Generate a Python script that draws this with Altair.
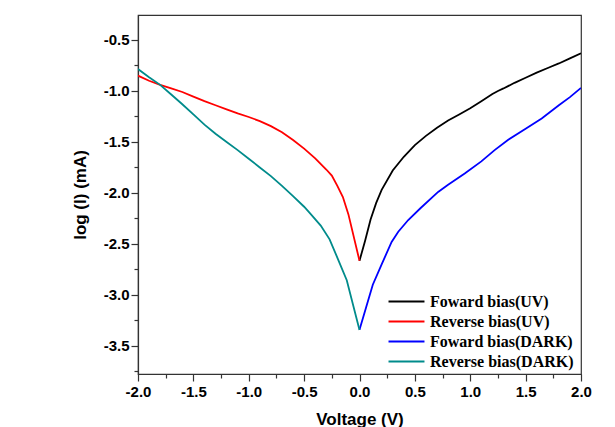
import altair as alt
import pandas as pd

# ---- data ----
series_names = ["Foward bias(UV)", "Reverse bias(UV)", "Foward bias(DARK)", "Reverse bias(DARK)"]
series_colors = ["#000000", "#ff0000", "#0000ff", "#008b8b"]

fuv_v = [0.0, 0.05, 0.1, 0.15, 0.2, 0.3, 0.4, 0.5, 0.6, 0.7, 0.8, 0.9, 1.0, 1.1, 1.2, 1.25,
         1.3, 1.4, 1.5, 1.6, 1.7, 1.8, 1.9, 2.0]
fuv_i = [-2.665, -2.47, -2.26, -2.10, -1.97, -1.78, -1.645, -1.53, -1.44, -1.36, -1.29, -1.23,
         -1.17, -1.10, -1.03, -1.0, -0.975, -0.92, -0.87, -0.82, -0.775, -0.73, -0.68, -0.63]

ruv_v = [-2.0, -1.9, -1.8, -1.7, -1.6, -1.5, -1.4, -1.3, -1.2, -1.1, -1.0, -0.9, -0.8, -0.7,
         -0.6, -0.5, -0.4, -0.3, -0.25, -0.2, -0.15, -0.1, 0.0]
ruv_i = [-0.85, -0.90, -0.94, -0.975, -1.01, -1.055, -1.10, -1.14, -1.18, -1.22, -1.255, -1.295,
         -1.345, -1.405, -1.48, -1.565, -1.66, -1.77, -1.83, -1.93, -2.04, -2.21, -2.665]

fdk_v = [0.0, 0.06, 0.12, 0.2, 0.29, 0.35, 0.44, 0.55, 0.71, 0.8, 0.95, 1.1, 1.22, 1.34, 1.5,
         1.645, 1.8, 1.9, 2.0]
fdk_i = [-3.34, -3.12, -2.90, -2.70, -2.48, -2.38, -2.265, -2.15, -1.99, -1.92, -1.81, -1.69,
         -1.58, -1.48, -1.37, -1.27, -1.14, -1.06, -0.97]

rdk_v = [-2.0, -1.9, -1.8, -1.7, -1.6, -1.5, -1.4, -1.3, -1.2, -1.1, -1.0, -0.9, -0.8, -0.7,
         -0.6, -0.5, -0.45, -0.35, -0.27, -0.19, -0.115, 0.0]
rdk_i = [-0.785, -0.865, -0.94, -1.035, -1.13, -1.23, -1.33, -1.42, -1.50, -1.58, -1.665, -1.75,
         -1.835, -1.93, -2.03, -2.135, -2.195, -2.32, -2.455, -2.66, -2.855, -3.343]

x_major = [-2.0, -1.5, -1.0, -0.5, 0.0, 0.5, 1.0, 1.5, 2.0]
x_minor = [-1.75, -1.25, -0.75, -0.25, 0.25, 0.75, 1.25, 1.75]
y_major = [-3.5, -3.0, -2.5, -2.0, -1.5, -1.0, -0.5]
y_minor = [-3.75, -3.25, -2.75, -2.25, -1.75, -1.25, -0.75]

rows = []
for name, vs, cs in zip(series_names, [fuv_v, ruv_v, fdk_v, rdk_v], [fuv_i, ruv_i, fdk_i, rdk_i]):
    for k, (v, c) in enumerate(zip(vs, cs)):
        rows.append({"series": name, "v": v, "i": c, "k": k})
df = pd.DataFrame(rows)

xscale = alt.Scale(domain=[-2.0, 2.0], nice=False, zero=False)
yscale = alt.Scale(domain=[-3.775, -0.255], nice=False, zero=False)

sans = "Liberation Sans"
serif = "Liberation Serif"
axis_col = "#333333"
label_expr = "replace(format(datum.value, '.1f'), '\u2212', '-')"

lines = alt.Chart(df).mark_line(strokeWidth=1.8, clip=True).encode(
    x=alt.X("v:Q", scale=xscale, axis=alt.Axis(
        title="Voltage (V)", values=x_major, labelExpr=label_expr, orient="bottom",
        tickSize=7, labelPadding=3, labelFlush=False, labelOverlap=False,
        titlePadding=12, grid=False)),
    y=alt.Y("i:Q", scale=yscale, axis=alt.Axis(
        title="log (I) (mA)", values=y_major, labelExpr=label_expr, orient="left",
        tickSize=7, labelPadding=2, labelOverlap=False, titlePadding=14, grid=False)),
    color=alt.Color("series:N", sort=series_names,
                    scale=alt.Scale(domain=series_names, range=series_colors),
                    legend=alt.Legend(title=None, orient="none", legendX=260, legendY=278,
                                      symbolType="M-2.5,0L2.5,0", symbolSize=207,
                                      symbolStrokeWidth=2,
                                      labelFont=serif, labelFontWeight="bold", labelFontSize=16,
                                      labelColor="#000", labelOffset=15, rowPadding=3, padding=0)),
    order="k:Q",
)

minor = alt.Chart(df).mark_point(opacity=0).encode(
    x=alt.X("v:Q", scale=xscale, axis=alt.Axis(
        title=None, values=x_minor, labels=False, domain=False, tickSize=4,
        orient="bottom", grid=False)),
    y=alt.Y("i:Q", scale=yscale, axis=alt.Axis(
        title=None, values=y_minor, labels=False, domain=False, tickSize=4,
        orient="left", grid=False)),
)

chart = alt.layer(lines, minor).resolve_axis(x="independent", y="independent").properties(
    width=443, height=359,
    autosize=alt.AutoSizeParams(type="none"),
    padding={"left": 138, "top": 15, "right": 34, "bottom": 53},
    background="white",
).configure_view(stroke=axis_col, strokeWidth=1.2).configure_axis(
    domainColor=axis_col, tickColor=axis_col, domainWidth=1.2, tickWidth=1.2,
    labelFont=sans, labelFontWeight="bold", labelFontSize=15, labelColor="#000",
    titleFont=sans, titleFontWeight="bold", titleFontSize=17, titleColor="#000",
)

chart.save("out.html", embed_options={"renderer": "svg", "actions": False})
